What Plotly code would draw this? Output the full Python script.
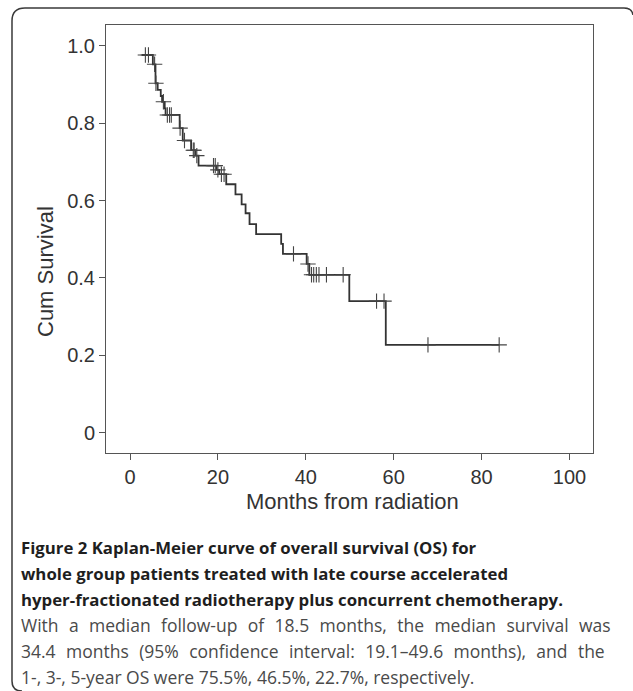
import plotly.graph_objects as go

# ---- data ----
step_times = [2.7, 5.2, 5.8, 6.3, 7.0, 7.3, 7.9, 8.1, 11.3, 12.0, 13.9, 14.9, 15.6,
              19.7, 20.3, 21.9, 24.0, 25.4, 26.3, 27.2, 28.7, 34.4, 34.8, 40.2, 40.8,
              49.9, 58.2, 84.0]
step_surv = [0.976, 0.952, 0.903, 0.886, 0.870, 0.855, 0.838, 0.821, 0.787, 0.755, 0.730, 0.716, 0.690,
             0.679, 0.668, 0.642, 0.616, 0.590, 0.567, 0.539, 0.513, 0.488, 0.462, 0.436, 0.408,
             0.340, 0.227, 0.227]
censor_times = [3.5, 4.2, 5.6, 5.9, 7.6, 8.5, 9.0, 9.4, 11.4, 12.4, 14.4, 14.6, 15.2,
                19.0, 19.4, 20.0, 20.8, 21.4, 37.2, 40.5, 41.3, 41.8, 42.4, 43.0, 44.7, 48.5,
                56.1, 57.8, 67.8, 84.0]
censor_surv = [0.976, 0.976, 0.952, 0.903, 0.855, 0.821, 0.821, 0.821, 0.787, 0.755, 0.730, 0.730, 0.716,
               0.690, 0.690, 0.679, 0.668, 0.668, 0.462, 0.436, 0.408, 0.408, 0.408, 0.408, 0.408, 0.408,
               0.340, 0.340, 0.227, 0.227]
y_tickvals = [0, 0.2, 0.4, 0.6, 0.8, 1.0]
y_ticktext = ["0", "0.2", "0.4", "0.6", "0.8", "1.0"]
x_tickvals = [0, 20, 40, 60, 80, 100]

caption_bold = [
    "Figure 2 Kaplan-Meier curve of overall survival (OS) for",
    "whole group patients treated with late course accelerated",
    "hyper-fractionated radiotherapy plus concurrent chemotherapy.",
]
caption_text = [
    "With a median follow-up of 18.5 months, the median survival was",
    "34.4 months (95% confidence interval: 19.1\u201349.6 months), and the",
    "1-, 3-, 5-year OS were 75.5%, 46.5%, 22.7%, respectively.",
]

# ---- layout geometry (pixels) ----
W, H = 633, 691
L, R, T, B = 106, 593, 25, 453
pw, ph = R - L, B - T


def px(x):
    return (x - L) / pw


def py(y):
    return (B - y) / ph


fig = go.Figure()
fig.add_trace(go.Scatter(
    x=step_times, y=step_surv, mode="lines",
    line=dict(color="#333333", width=1.8, shape="hv"),
    hoverinfo="skip", showlegend=False))
fig.add_trace(go.Scatter(
    x=censor_times, y=censor_surv, mode="markers",
    marker=dict(symbol="cross-thin", size=11, line=dict(color="#444444", width=1.1)),
    hoverinfo="skip", showlegend=False))

axis_common = dict(showline=True, mirror=True, linecolor="#555555", linewidth=1,
                   ticks="outside", ticklen=6, tickcolor="#555555", tickwidth=1,
                   showgrid=False, zeroline=False,
                   tickfont=dict(family="Liberation Sans, Arial", size=20, color="#333333"))

fig.update_layout(
    width=W, height=H,
    margin=dict(l=L, r=W - R, t=T, b=H - B),
    paper_bgcolor="white", plot_bgcolor="white",
    xaxis=dict(range=[-5.46, 105.35], tickvals=x_tickvals, **axis_common),
    yaxis=dict(range=[-0.0525, 1.0535], tickvals=y_tickvals, ticktext=y_ticktext, **axis_common),
)

annos = []
annos.append(dict(text="Cum Survival", x=px(45), y=py(272), xref="paper", yref="paper",
                  textangle=-90, showarrow=False, xanchor="center", yanchor="middle",
                  font=dict(family="Liberation Sans, Arial", size=22, color="#333333")))
annos.append(dict(text="Months from radiation", x=px(352), y=py(501), xref="paper", yref="paper",
                  showarrow=False, xanchor="center", yanchor="middle",
                  font=dict(family="Liberation Sans, Arial", size=22, color="#333333")))
line_y = [547, 573, 599, 625, 651, 677]
for i, t in enumerate(caption_bold):
    annos.append(dict(text="<b>" + t + "</b>", x=px(19), y=py(line_y[i]), xref="paper", yref="paper",
                      showarrow=False, xanchor="left", yanchor="middle",
                      font=dict(family="Open Sans", size=16.8, color="#1e1e1e")))
for i, t in enumerate(caption_text):
    if i < 2:
        t = t.replace(" ", " \u2004")
    annos.append(dict(text=t, x=px(19), y=py(line_y[3 + i]), xref="paper", yref="paper",
                      showarrow=False, xanchor="left", yanchor="middle",
                      font=dict(family="Open Sans", size=17.5, color="#4a4a4a")))
fig.update_layout(annotations=annos)

# bracket-like rounded border (top and left)
pts = [
    ("M", (22, 691)), ("Q", (12, 691), (12, 681)), ("L", (12, 21)),
    ("Q", (12, 8), (25, 8)), ("L", (624, 8)), ("Q", (632, 8), (633, 15)),
]
path = ""
for p in pts:
    cmd = p[0]
    coords = " ".join("%.5f,%.5f" % (px(a), py(b)) for a, b in p[1:])
    path += cmd + " " + coords + " "
fig.add_shape(type="path", path=path.strip(), xref="paper", yref="paper",
              line=dict(color="#3a3a3a", width=1.5))

fig.write_html("out.html", config={"displayModeBar": False},
               post_script="document.body.style.margin='0px';document.body.style.overflow='hidden';")
